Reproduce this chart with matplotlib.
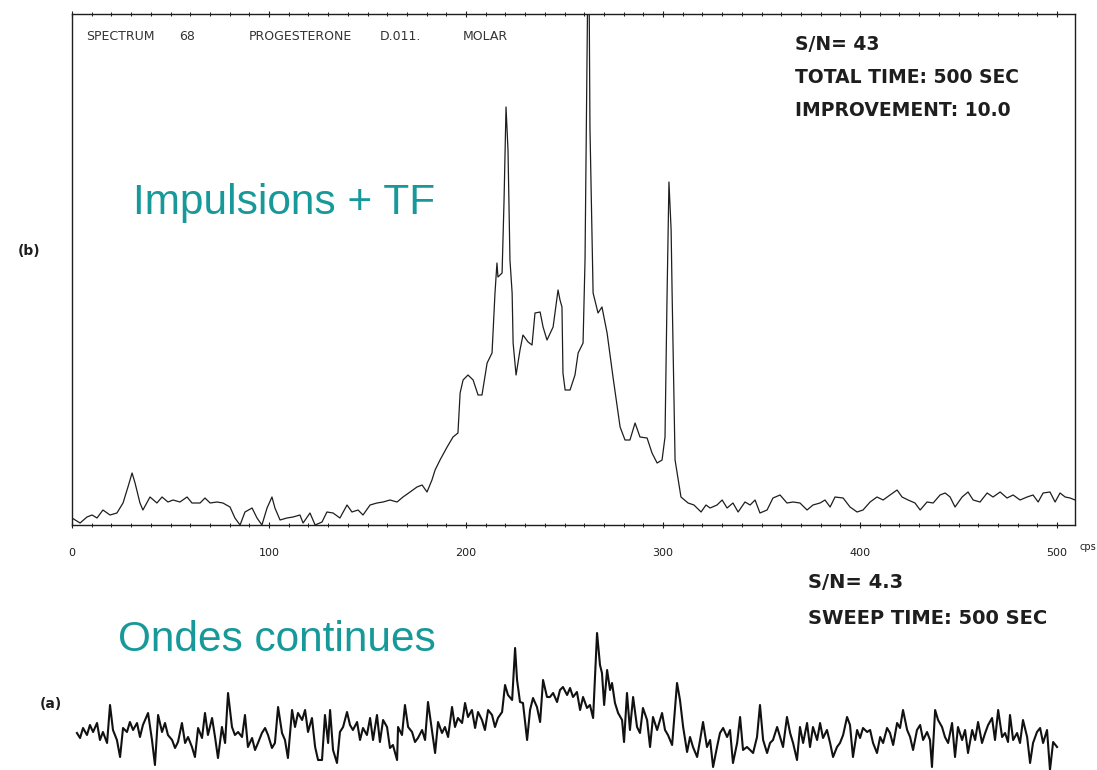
import matplotlib
matplotlib.use("Agg")
import matplotlib.pyplot as plt
from matplotlib.ticker import MultipleLocator

# ---------------- data ----------------
# (b) pulsed FT spectrum: frequency (cps) and intensity (arbitrary units)
ft_cps = [0, 4.1, 7.6, 10.2, 12.7, 15.7, 19.3, 22.8, 25.9, 28.4, 30.5, 32.0, 34.5, 36.0,
          39.6, 43.1, 45.7, 48.7, 51.3, 54.8, 58.4, 60.9, 65.0, 67.5, 70.1, 73.6, 76.6,
          80.2, 82.7, 85.3, 87.8, 91.4, 93.9, 96.4, 99.0, 101.5, 103.0, 105.6, 109.1,
          112.2, 115.7, 117.3, 120.8, 123.4, 126.9, 129.4, 132.5, 136.0, 139.6, 142.1,
          145.2, 147.7, 151.3, 154.8, 157.9, 161.4, 165.0, 168.0, 171.6, 175.1, 177.7,
          180.2, 182.7, 184.3, 186.8, 190.4, 193.4, 195.9, 197.0, 198.5, 201.0, 203.6,
          206.1, 208.1, 210.7, 213.2, 214.7, 215.7, 216.2, 218.3, 219.3, 220.3, 221.3,
          222.3, 223.4, 223.9, 225.4, 227.4, 228.9, 231.5, 233.5, 235.0, 237.6, 239.1,
          241.1, 244.2, 246.7, 247.7, 248.7, 249.2, 250.3, 252.8, 255.3, 256.9, 259.4,
          260.4, 261.4, 261.9, 262.4, 262.9, 264.5, 267.0, 269.0, 271.6, 274.6, 278.2,
          280.7, 283.2, 285.8, 288.3, 291.9, 294.4, 297.0, 299.5, 301.0, 302.0, 303.0,
          304.1, 304.6, 306.1, 309.1, 312.7, 315.7, 319.3, 321.8, 323.9, 327.4, 330.0,
          332.5, 335.5, 338.1, 341.6, 344.2, 346.7, 349.2, 352.8, 355.8, 359.4, 362.9,
          366.0, 369.5, 373.1, 376.1, 379.7, 382.2, 384.8, 387.3, 391.4, 394.9, 398.5,
          401.5, 405.1, 408.6, 411.7, 415.2, 418.8, 421.3, 424.4, 427.9, 430.5, 434.0,
          437.1, 440.6, 443.2, 445.7, 448.2, 451.8, 454.8, 457.4, 460.9, 464.5, 467.5,
          471.1, 474.6, 477.7, 481.2, 484.8, 487.8, 490.4, 492.9, 496.4, 499.0, 501.5,
          504.1, 506.6, 509.1]
ft_int = [7, 2, 8, 10, 7, 15, 10, 12, 22, 38, 52, 42, 22, 15,
          28, 22, 28, 23, 25, 23, 28, 22, 22, 27, 22, 23, 22,
          18, 7, 0, 13, 17, 7, 0, 17, 28, 17, 5, 7,
          8, 10, 2, 12, 0, 3, 13, 12, 7, 20, 13,
          15, 10, 20, 22, 23, 25, 23, 28, 33, 38, 40,
          33, 45, 55, 65, 78, 88, 92, 132, 145, 150, 145,
          130, 130, 162, 172, 232, 262, 248, 252, 325, 418, 375,
          265, 232, 182, 150, 175, 190, 183, 180, 212, 213, 198,
          185, 198, 235, 225, 218, 152, 135, 135, 150, 172, 182,
          265, 470, 560, 560, 398, 232, 212, 218, 192, 148, 98,
          85, 85, 102, 88, 87, 72, 62, 65, 88, 225, 343,
          295, 232, 65, 28, 22, 20, 13, 20, 17, 20, 25,
          17, 22, 13, 23, 20, 25, 12, 15, 27, 30, 22,
          23, 22, 15, 20, 22, 25, 18, 28, 27, 18, 13,
          15, 23, 28, 25, 30, 35, 28, 25, 22, 15, 23,
          22, 30, 32, 28, 18, 28, 33, 25, 23, 32, 28,
          33, 27, 30, 25, 28, 30, 23, 32, 33, 23, 32,
          28, 27, 25]

# (a) continuous-wave sweep: frequency (cps) and intensity (arbitrary units)
cw_cps = [2.5, 4.1, 5.6, 7.6, 9.1, 10.7, 12.7, 14.2, 15.7, 17.8, 19.3, 20.8, 22.8, 24.4,
          25.9, 27.9, 29.4, 31.0, 33.0, 34.5, 36.0, 38.6, 40.6, 42.1, 43.7, 45.7, 47.2,
          48.7, 50.8, 52.3, 53.8, 55.8, 57.4, 58.9, 60.9, 62.4, 64.0, 66.0, 67.5, 69.0,
          71.1, 72.6, 74.1, 76.1, 77.7, 79.2, 81.2, 82.7, 84.3, 86.3, 87.8, 89.3, 91.4,
          92.9, 94.4, 96.4, 98.0, 99.5, 101.5, 103.0, 104.6, 106.6, 108.1, 109.6, 111.7,
          113.2, 114.7, 116.8, 118.3, 119.8, 121.8, 123.4, 124.9, 126.9, 128.4, 130.0,
          131.0, 132.5, 134.5, 136.0, 137.6, 139.6, 141.1, 142.6, 144.7, 146.2, 147.7,
          149.7, 151.3, 152.8, 154.8, 156.3, 157.9, 159.9, 161.4, 162.9, 165.0, 165.5,
          167.5, 169.0, 170.6, 172.6, 174.1, 175.6, 177.7, 179.2, 180.7, 182.7, 184.3,
          185.8, 187.8, 189.3, 190.9, 192.9, 194.4, 195.9, 198.0, 199.5, 201.0, 203.0,
          204.6, 206.1, 208.1, 209.6, 211.2, 213.2, 214.7, 216.2, 218.3, 219.8, 221.3,
          223.4, 224.9, 225.9, 227.4, 228.9, 231.0, 232.5, 234.0, 236.0, 237.6, 239.1,
          241.1, 242.6, 244.2, 246.2, 247.7, 249.2, 251.3, 252.8, 254.3, 256.3, 257.9,
          259.4, 261.4, 262.9, 264.5, 266.5, 268.0, 269.0, 270.1, 271.6, 273.1, 274.1,
          275.6, 277.2, 279.2, 280.2, 281.7, 283.2, 284.8, 286.8, 288.3, 289.8, 291.9,
          293.4, 294.9, 297.0, 299.5, 301.0, 302.5, 304.6, 307.1, 308.6, 310.2, 312.2,
          313.7, 315.2, 317.3, 318.8, 320.3, 322.3, 323.9, 325.4, 327.4, 328.9, 330.5,
          332.5, 334.0, 335.5, 337.6, 339.1, 340.6, 342.6, 344.2, 345.7, 347.7, 349.2,
          350.8, 352.8, 354.3, 355.8, 357.9, 359.4, 360.9, 362.9, 364.5, 366.0, 368.0,
          369.5, 371.1, 373.1, 374.6, 376.1, 378.2, 379.7, 381.2, 383.2, 384.8, 386.3,
          388.3, 389.8, 391.4, 393.4, 394.9, 396.4, 398.5, 400.0, 401.5, 403.6, 405.1,
          406.6, 408.6, 410.2, 411.7, 413.7, 415.2, 416.8, 418.8, 420.3, 421.8, 423.9,
          425.4, 426.9, 428.9, 430.5, 432.0, 434.0, 435.5, 436.5, 438.1, 439.6, 441.6,
          443.1, 444.7, 446.7, 448.2, 449.7, 451.8, 453.3, 454.8, 456.9, 458.4, 459.9,
          461.9, 463.5, 465.0, 467.0, 468.5, 470.1, 472.1, 473.6, 475.1, 476.1, 477.7,
          479.7, 481.2, 482.7, 484.8, 486.3, 487.8, 489.8, 491.4, 492.9, 494.9, 496.4,
          498.0, 500.0]
cw_int = [37, 32, 42, 35, 45, 38, 47, 30, 38, 27, 65, 40, 30, 13,
          42, 38, 48, 40, 47, 33, 45, 57, 30, 5, 55, 38, 47,
          35, 30, 22, 28, 47, 27, 33, 23, 13, 42, 32, 57, 35,
          52, 33, 12, 43, 27, 77, 43, 35, 38, 33, 55, 23, 32,
          20, 27, 37, 42, 35, 22, 27, 63, 37, 30, 12, 60,
          43, 57, 50, 60, 38, 52, 23, 10, 10, 55, 27,
          60, 20, 7, 38, 43, 58, 45, 40, 48, 30, 42,
          35, 52, 30, 55, 28, 50, 43, 22, 25, 10, 43,
          35, 65, 43, 38, 28, 32, 40, 30, 68, 40, 17,
          48, 37, 43, 33, 63, 43, 52, 47, 67, 53, 60,
          42, 58, 50, 40, 60, 55, 43, 52, 58, 85, 75,
          70, 122, 90, 68, 67, 30, 60, 72, 63, 48, 90,
          73, 73, 77, 68, 80, 83, 75, 82, 73, 78, 60,
          73, 62, 65, 52, 137, 105, 97, 65, 100, 80, 87,
          67, 57, 50, 28, 77, 40, 73, 43, 37, 62, 50,
          23, 53, 40, 57, 40, 35, 25, 87, 70, 43,
          18, 33, 23, 13, 30, 48, 23, 30, 3, 23, 37, 42,
          33, 40, 7, 27, 53, 20, 23, 20, 17, 33, 65,
          30, 17, 27, 30, 43, 33, 23, 53, 37, 27, 10,
          43, 27, 47, 23, 43, 30, 47, 32, 40, 27, 13,
          23, 27, 35, 53, 45, 13, 40, 32, 42, 38, 40,
          27, 17, 33, 27, 42, 37, 25, 47, 42, 60, 40,
          33, 20, 40, 45, 30, 38, 30, 3, 60, 50, 43,
          33, 27, 47, 13, 43, 30, 40, 17, 40, 30, 48,
          27, 37, 45, 52, 30, 60, 33, 37, 28, 55, 30,
          37, 27, 50, 33, 7, 27, 38, 42, 27, 40, 0,
          28, 23]

tick_values = [0, 100, 200, 300, 400, 500]
tick_labels = ["0", "100", "200", "300", "400", "500"]

header_words = ["SPECTRUM", "68", "PROGESTERONE", "D.011.", "MOLAR"]
ft_notes = ["S/N= 43", "TOTAL TIME: 500 SEC", "IMPROVEMENT: 10.0"]
cw_notes = ["S/N= 4.3", "SWEEP TIME: 500 SEC"]

# ---------------- figure ----------------
W, H = 1097, 770
fig = plt.figure(figsize=(W / 100, H / 100), dpi=100)
fig.patch.set_facecolor("white")

def fx(px):
    return px / W

def fy(py):
    return 1 - py / H

ink = "#1e1e1e"
teal = "#17999a"

# upper panel (b)
ax = fig.add_axes([fx(72), fy(525), fx(1075) - fx(72), fy(14) - fy(525)])
ax.plot(ft_cps, ft_int, color=ink, lw=0.9)
ax.set_xlim(0, 509.1)
ax.set_ylim(0, 511)
for s in ax.spines.values():
    s.set_color(ink)
    s.set_linewidth(1.0)
ax.set_yticks([])
ax.set_xticks(tick_values)
ax.set_xticklabels(tick_labels, fontsize=8, color=ink)
ax.xaxis.set_minor_locator(MultipleLocator(10))
ax.tick_params(axis="x", which="major", direction="inout", length=5, width=0.8,
               pad=14, top=True, color=ink)
ax.tick_params(axis="x", which="minor", direction="inout", length=3, width=0.7,
               top=True, color=ink)
ax.set_facecolor("white")

# lower panel (a)
ax2 = fig.add_axes([fx(72), 0, fx(1075) - fx(72), fy(600)])
ax2.plot(cw_cps, cw_int, color="#111111", lw=1.5)
ax2.set_xlim(0, 509.1)
ax2.set_ylim(0, 170)
ax2.axis("off")

# ---------------- texts ----------------
fig.text(fx(1080), fy(547), "cps", fontsize=7, color=ink, ha="left", va="center")

header_x = [86, 179, 249, 380, 463]
for w, x in zip(header_words, header_x):
    fig.text(fx(x), fy(36), w, fontsize=9, color="#333333", ha="left", va="center")

for i, t in enumerate(ft_notes):
    fig.text(fx(795), fy(45 + 32.5 * i), t, fontsize=13.5, fontweight="bold",
             color=ink, ha="left", va="center")
for i, t in enumerate(cw_notes):
    fig.text(fx(808), fy(582 + 36 * i), t, fontsize=14, fontweight="bold",
             color=ink, ha="left", va="center")

fig.text(fx(18), fy(251), "(b)", fontsize=10, fontweight="bold", color=ink,
         ha="left", va="center")
fig.text(fx(40), fy(704), "(a)", fontsize=10, fontweight="bold", color=ink,
         ha="left", va="center")

fig.text(fx(133), fy(203), "Impulsions + TF", fontsize=30.5, color=teal,
         family="Liberation Sans", ha="left", va="center")
fig.text(fx(118), fy(640), "Ondes continues", fontsize=30.5, color=teal,
         family="Liberation Sans", ha="left", va="center")

fig.savefig("out.png", dpi=100, facecolor="white")
